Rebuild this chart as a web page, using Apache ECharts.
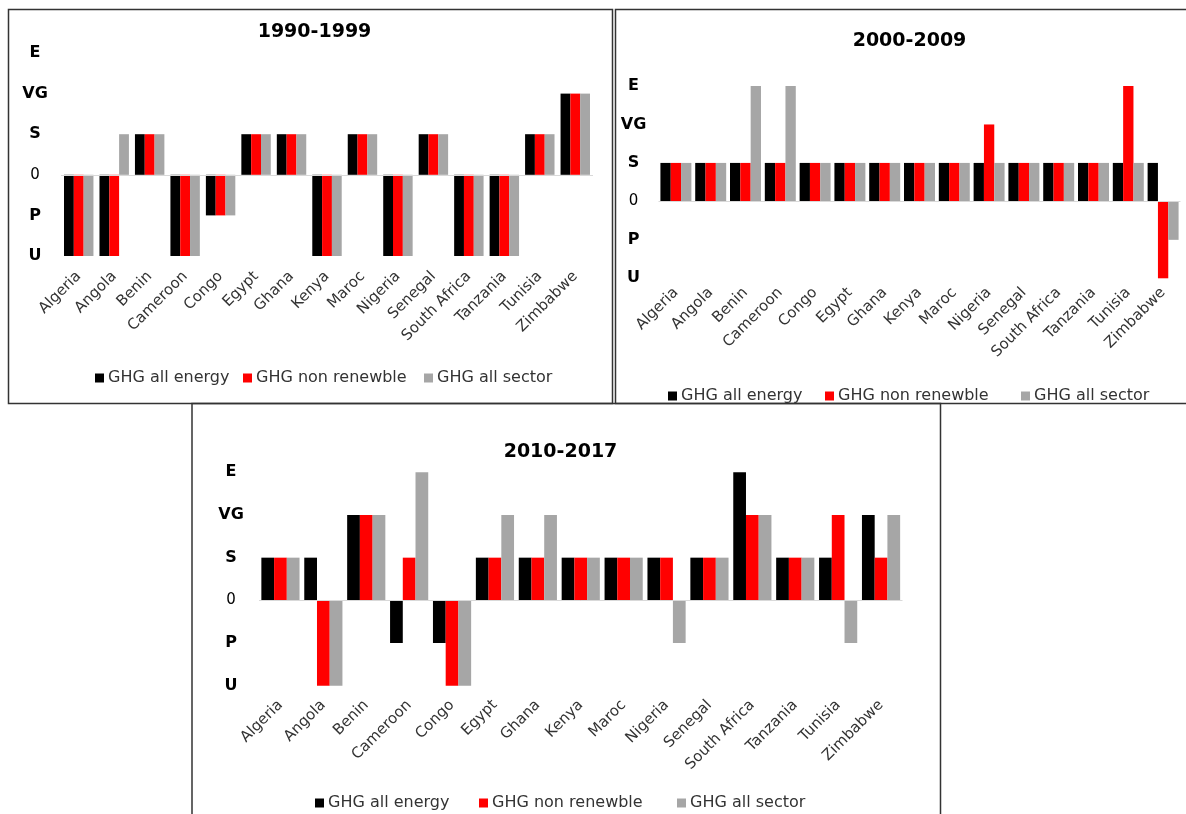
<!DOCTYPE html>
<html>
<head>
<meta charset="utf-8">
<script src="https://cdn.jsdelivr.net/npm/echarts@6/dist/echarts.min.js"></script>
<style>
html,body{margin:0;padding:0;background:#fff;}
#chart{width:1186px;height:814px;}
</style>
</head>
<body>
<div id="chart"></div>
<script>
// ---- Data ----
const categories = ['Algeria','Angola','Benin','Cameroon','Congo','Egypt','Ghana','Kenya','Maroc','Nigeria','Senegal','South Africa','Tanzania','Tunisia','Zimbabwe'];
const seriesNames = ['GHG all energy','GHG non renewble','GHG all sector'];
const panelTitles = ['1990-1999','2000-2009','2010-2017'];
// rating scale: E=3, VG=2, S=1, 0, P=-1, U=-2
const levelValues = [3, 2, 1, 0, -1, -2];
const levelLabels = ['E', 'VG', 'S', '0', 'P', 'U'];

const energy1990    = [-2,-2, 1,-2,-1, 1, 1,-2, 1,-2, 1,-2,-2, 1, 2];
const nonRenew1990  = [-2,-2, 1,-2,-1, 1, 1,-2, 1,-2, 1,-2,-2, 1, 2];
const sector1990    = [-2, 1, 1,-2,-1, 1, 1,-2, 1,-2, 1,-2,-2, 1, 2];

const energy2000    = [ 1, 1, 1, 1, 1, 1, 1, 1, 1, 1, 1, 1, 1, 1, 1];
const nonRenew2000  = [ 1, 1, 1, 1, 1, 1, 1, 1, 1, 2, 1, 1, 1, 3,-2];
const sector2000    = [ 1, 1, 3, 3, 1, 1, 1, 1, 1, 1, 1, 1, 1, 1,-1];

const energy2010    = [ 1, 1, 2,-1,-1, 1, 1, 1, 1, 1, 1, 3, 1, 1, 2];
const nonRenew2010  = [ 1,-2, 2, 1,-2, 1, 1, 1, 1, 1, 1, 2, 1, 2, 1];
const sector2010    = [ 1,-2, 2, 3,-2, 2, 2, 1, 1,-1, 1, 2, 1,-1, 2];

const colors = ['#000000', '#ff0000', '#a6a6a6'];

// ---- Layout ----
const panels = [
  { data:[energy1990,nonRenew1990,sector1990], grid:{left:61, top:53, width:532, height:203},
    gap:'17%', yMargin:26, xMargin:18, title:{x:314.5, y:23}, legendY:370, legendX:[95,243,424] },
  { data:[energy2000,nonRenew2000,sector2000], grid:{left:658.5, top:86, width:522, height:192.3},
    gap:'11%', yMargin:25, xMargin:12, title:{x:909.5, y:32}, legendY:388, legendX:[668,825,1021] },
  { data:[energy2010,nonRenew2010,sector2010], grid:{left:259, top:472.3, width:643.5, height:213.4},
    gap:'11%', yMargin:28, xMargin:17, title:{x:560.5, y:443}, legendY:795, legendX:[315,479,677] }
];

const FONT = 'DejaVu Sans';
const option = {
  backgroundColor:'#ffffff',
  animation:false,
  title:[], grid:[], xAxis:[], yAxis:[], series:[], legend:[],
  graphic:[
    {type:'rect', shape:{x:8.5, y:9.5, width:604, height:394}, style:{fill:'none', stroke:'#333', lineWidth:1.5}, z:100},
    {type:'rect', shape:{x:615.5, y:9.5, width:580, height:394}, style:{fill:'none', stroke:'#333', lineWidth:1.5}, z:100},
    {type:'rect', shape:{x:192, y:403.5, width:748.5, height:420}, style:{fill:'none', stroke:'#333', lineWidth:1.5}, z:100}
  ]
};

panels.forEach((p, i) => {
  option.title.push({
    text: panelTitles[i], left: p.title.x, top: p.title.y, textAlign:'center', padding:0,
    textStyle:{fontFamily:FONT, fontWeight:'bold', fontSize:19, color:'#000'}
  });
  option.grid.push(Object.assign({containLabel:false}, p.grid));
  option.xAxis.push({
    type:'category', gridIndex:i, data:categories,
    axisLine:{show:false}, axisTick:{show:false}, splitLine:{show:false},
    axisLabel:{interval:0, rotate:45, margin:p.xMargin, fontFamily:FONT, fontSize:15, color:'#333'}
  });
  option.yAxis.push({
    type:'value', gridIndex:i, min:-2, max:3, interval:1,
    axisLine:{show:false}, axisTick:{show:false}, splitLine:{show:false},
    axisLabel:{
      align:'center', margin:p.yMargin,
      formatter: v => {
        const lab = levelLabels[levelValues.indexOf(v)];
        return lab === '0' ? '{n|0}' : '{b|' + lab + '}';
      },
      rich:{
        b:{fontFamily:FONT, fontWeight:'bold', fontSize:16, color:'#000'},
        n:{fontFamily:FONT, fontSize:15, color:'#000'}
      }
    }
  });
  p.data.forEach((arr, s) => {
    const ser = {
      type:'bar', name:seriesNames[s], xAxisIndex:i, yAxisIndex:i,
      data:arr, barGap:'0%', barCategoryGap:p.gap,
      itemStyle:{color:colors[s]}
    };
    if (s === 0) {
      ser.markLine = {
        silent:true, symbol:['none','none'], label:{show:false},
        lineStyle:{color:'#d9d9d9', type:'solid', width:1},
        data:[{yAxis:0}]
      };
    }
    option.series.push(ser);
  });
  seriesNames.forEach((nm, s) => {
    option.legend.push({
      data:[nm], left:p.legendX[s], top:p.legendY, padding:0,
      itemWidth:9, itemHeight:9, itemGap:5, icon:'rect',
      textStyle:{fontFamily:FONT, fontSize:16, color:'#333', padding:[0,0,0,-1]}
    });
  });
});

const chart = echarts.init(document.getElementById('chart'), null, {renderer:'canvas'});
chart.setOption(option);
</script>
</body>
</html>
